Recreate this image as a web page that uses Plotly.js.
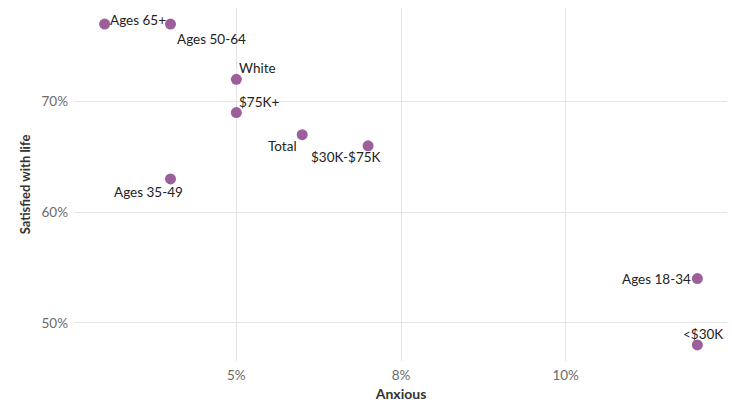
<!DOCTYPE html>
<html>
<head>
<meta charset="utf-8">
<script src="https://cdn.plot.ly/plotly-3.0.1.min.js"></script>
<style>html,body{margin:0;padding:0;background:#fff;}#chart{width:732px;height:403px;}</style>
</head>
<body>
<div id="chart"></div>
<script>
// Data
var groups = ["Ages 65+", "Ages 50-64", "White", "$75K+", "Total", "$30K-$75K", "Ages 35-49", "Ages 18-34", "<$30K"];
var anxious = [0.03, 0.04, 0.05, 0.05, 0.06, 0.07, 0.04, 0.12, 0.12];
var satisfied = [0.77, 0.77, 0.72, 0.69, 0.67, 0.66, 0.63, 0.54, 0.48];
var xTickVals = [0.05, 0.075, 0.10];
var xTickText = ["5%", "8%", "10%"];
var yTickVals = [0.5, 0.6, 0.7];
var yTickText = ["50%", "60%", "70%"];

// Label placement (styles)
var labelStyle = [
  {xanchor: "left",  xshift: 3,   yshift: 4},
  {xanchor: "left",  xshift: 5,   yshift: -15},
  {xanchor: "left",  xshift: 1,   yshift: 11},
  {xanchor: "left",  xshift: 1,   yshift: 11},
  {xanchor: "right", xshift: -3,  yshift: -11},
  {xanchor: "right", xshift: 15,  yshift: -11},
  {xanchor: "right", xshift: 15,  yshift: -13},
  {xanchor: "right", xshift: -4,  yshift: 0},
  {xanchor: "left",  xshift: -16, yshift: 11}
];

var FONT = "Lato, 'Open Sans', sans-serif";

var trace = {
  type: "scatter",
  mode: "markers",
  x: anxious,
  y: satisfied,
  text: groups,
  hoverinfo: "text",
  marker: {color: "#9c5f9c", size: 11, line: {width: 0}}
};

var annotations = groups.map(function (g, i) {
  return {
    x: anxious[i], y: satisfied[i], xref: "x", yref: "y",
    text: g, showarrow: false,
    xanchor: labelStyle[i].xanchor, yanchor: "middle",
    xshift: labelStyle[i].xshift, yshift: labelStyle[i].yshift,
    font: {family: FONT, size: 13.5, color: "#222"}
  };
});

var xmin = Math.min.apply(null, anxious), xmax = Math.max.apply(null, anxious);
var ymin = Math.min.apply(null, satisfied), ymax = Math.max.apply(null, satisfied);
var xp = (xmax - xmin) * 0.05, yp = (ymax - ymin) * 0.05;

var layout = {
  width: 732, height: 403,
  margin: {l: 75, r: 5, t: 8, b: 42, pad: 0},
  paper_bgcolor: "#fff", plot_bgcolor: "#fff",
  showlegend: false,
  font: {family: FONT},
  xaxis: {
    range: [xmin - xp, xmax + xp],
    tickvals: xTickVals, ticktext: xTickText,
    showgrid: true, gridcolor: "#e4e4e4", gridwidth: 1,
    zeroline: false, showline: false, ticks: "",
    ticklabelstandoff: 4,
    tickfont: {family: FONT, size: 13.5, color: "#6b6b6b"},
    title: {text: "<b>Anxious</b>", font: {family: FONT, size: 14, color: "#333"}, standoff: 7},
    automargin: false
  },
  yaxis: {
    range: [ymin - yp, ymax + yp],
    tickvals: yTickVals, ticktext: yTickText,
    showgrid: true, gridcolor: "#e4e4e4", gridwidth: 1,
    zeroline: false, showline: false, ticks: "",
    ticklabelstandoff: 6,
    tickfont: {family: FONT, size: 13.5, color: "#6b6b6b"},
    title: {text: "<b>Satisfied with life</b>", font: {family: FONT, size: 13, color: "#333"}, standoff: 7},
    automargin: false
  },
  annotations: annotations
};

Plotly.newPlot("chart", [trace], layout, {displayModeBar: false, staticPlot: true});
</script>
</body>
</html>
